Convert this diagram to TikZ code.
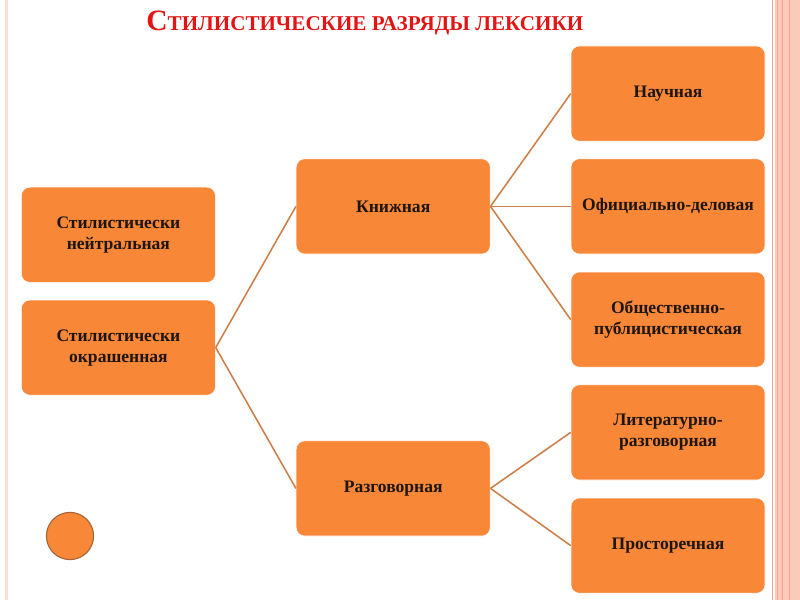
\documentclass[tikz,border=0pt]{standalone}
\usepackage{fontspec}
\setmainfont{Liberation Serif}
\usepackage{tikz}
\definecolor{boxorange}{RGB}{248,135,56}
\definecolor{linkbrown}{RGB}{206,126,72}
\definecolor{edgepink}{RGB}{251,202,184}
\definecolor{titlered}{RGB}{226,20,20}
\definecolor{textdark}{RGB}{30,22,14}
\tikzstyle{kind}=[fill=boxorange, draw=white, rounded corners=6pt, inner sep=2pt, minimum width=4.85cm, minimum height=2.38cm, align=center, text width=4.7cm, font=\bfseries\fontsize{12.5}{15}\selectfont, text=textdark]
\tikzstyle{link}=[draw=linkbrown, line width=1.1pt]

\begin{document}
\begin{tikzpicture}
        \useasboundingbox (0,0) rectangle (20,15);
        \fill[white] (0,0) rectangle (20,15);
        % side stripes
        \fill[edgepink!60] (0.13,0) rectangle (0.2,15);
        \fill[edgepink] (19.38,0) rectangle (20,15);
        \draw[edgepink!80!red, line width=0.4pt] (19.3,0) -- (19.3,15);
        \draw[edgepink!80!red, line width=0.4pt] (19.43,0) -- (19.43,15);
        \draw[edgepink!80!red, line width=0.4pt] (19.55,0) -- (19.55,15);
        \draw[edgepink!80!red, line width=0.4pt] (19.72,0) -- (19.72,15);
        % title
        \node[text=titlered, font=\bfseries] (T) at (9.12,14.42)
            {{\fontsize{21}{24}\selectfont С}{\fontsize{15}{18}\selectfont ТИЛИСТИЧЕСКИЕ РАЗРЯДЫ ЛЕКСИКИ}};
        % left column
        \node[kind] (N) at (2.96,9.13) {Стилистически\\нейтральная};
        \node[kind] (O) at (2.96,6.31) {Стилистически\\окрашенная};
        % middle column
        \node[kind] (K) at (9.83,9.84) {Книжная};
        \node[kind] (R) at (9.83,2.79) {Разговорная};
        % right column
        \node[kind] (K1) at (16.7,12.66) {Научная};
        \node[kind] (K2) at (16.7,9.84) {Официально-деловая};
        \node[kind] (K3) at (16.7,7.01) {Общественно-\\публицистическая};
        \node[kind] (R1) at (16.7,4.19) {Литературно-\\разговорная};
        \node[kind] (R2) at (16.7,1.36) {Просторечная};
        \draw[link] (O.east) -- (K.west);
        \draw[link] (O.east) -- (R.west);
        \draw[link] (K.east) -- (K1.west);
        \draw[link] (K.east) -- (K2.west);
        \draw[link] (K.east) -- (K3.west);
        \draw[link] (R.east) -- (R1.west);
        \draw[link] (R.east) -- (R2.west);
        % round marker
        \node[circle, fill=boxorange, draw=linkbrown!80!black, line width=0.8pt, minimum size=1.18cm, inner sep=0pt] (M) at (1.75,1.6) {};
    \end{tikzpicture}
\end{document}
